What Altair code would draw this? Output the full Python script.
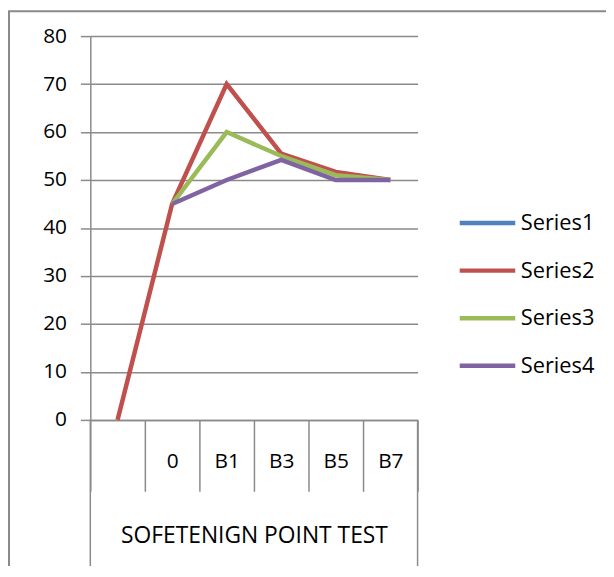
import json
import altair as alt
import pandas as pd

# ---- data ----
categories = ["", "0", "B1", "B3", "B5", "B7"]
series_names = ["Series1", "Series2", "Series3", "Series4"]
series1 = [None, None, None, None, None, None]
series2 = [0, 45, 70, 55.5, 51.7, 50]
series3 = [None, 45, 60, 55, 51, 50]
series4 = [None, 45, 50, 54.2, 50, 50]
y_ticks = [0, 10, 20, 30, 40, 50, 60, 70, 80]
group_label = "SOFETENIGN POINT TEST"
colors = ["#4F81BD", "#C0504D", "#9BBB59", "#8064A2"]

rows = []
for name, vals in zip(series_names, [series1, series2, series3, series4]):
    for i, v in enumerate(vals):
        rows.append({"idx": i, "series": name, "value": v})
df = pd.DataFrame(rows)

FONT = "Open Sans"
GRAY = "#8a8a8a"
W, H = 330, 387

label_expr = "[" + ",".join(json.dumps(c) for c in categories) + "][datum.value]"

lines = alt.Chart(df).mark_line(strokeWidth=4.5).encode(
    x=alt.X(
        "idx:O",
        scale=alt.Scale(type="band", paddingInner=0, paddingOuter=0),
        axis=alt.Axis(
            title=group_label,
            labelExpr=label_expr,
            labelAngle=0,
            tickBand="extent",
            tickSize=72,
            tickColor=GRAY,
            tickWidth=1.5,
            domainColor=GRAY,
            domainWidth=1.5,
            labelBaseline="middle",
            labelPadding=-30,
            labelFontSize=21,
            labelFont=FONT,
            labelColor="black",
            titleFont=FONT,
            titleFontSize=23,
            titleFontWeight="normal",
            titleColor="black",
            titleBaseline="middle",
            titleY=117,
            grid=False,
        ),
    ),
    y=alt.Y(
        "value:Q",
        scale=alt.Scale(domain=[0, 80]),
        axis=alt.Axis(
            values=y_ticks,
            title=None,
            grid=True,
            gridColor=GRAY,
            gridWidth=1.5,
            tickSize=10,
            tickColor=GRAY,
            tickWidth=1.5,
            domainColor=GRAY,
            domainWidth=1.5,
            labelFontSize=21,
            labelPadding=14,
            labelFont=FONT,
            labelColor="black",
        ),
    ),
    color=alt.Color(
        "series:N",
        scale=alt.Scale(domain=series_names, range=colors),
        legend=alt.Legend(
            title=None,
            orient="none",
            direction="vertical",
            legendX=370,
            legendY=158,
            symbolType="stroke",
            symbolSize=3136,
            symbolStrokeWidth=4.5,
            labelFontSize=22,
            labelFont=FONT,
            labelColor="black",
            labelOffset=3,
            rowPadding=6,
            padding=0,
        ),
    ),
)

deco = alt.Chart(alt.Data(values=[{}]))
border = deco.mark_rect(fill="transparent", stroke=GRAY, strokeWidth=2).encode(
    x=alt.value(-82), x2=alt.value(800), y=alt.value(-25), y2=alt.value(800)
)
vleft = deco.mark_rule(color=GRAY, strokeWidth=1.5).encode(
    x=alt.value(0), y=alt.value(H), y2=alt.value(H + 150)
)
vright = deco.mark_rule(color=GRAY, strokeWidth=1.5).encode(
    x=alt.value(W), y=alt.value(H), y2=alt.value(H + 150)
)

chart = alt.layer(border, lines, vleft, vright).properties(
    width=W,
    height=H,
    autosize=alt.AutoSizeParams(type="none"),
    padding={"left": 83, "top": 26, "right": 190, "bottom": 145},
).configure_view(stroke=None)

chart.save("out.html", embed_options={"renderer": "svg", "actions": False})
